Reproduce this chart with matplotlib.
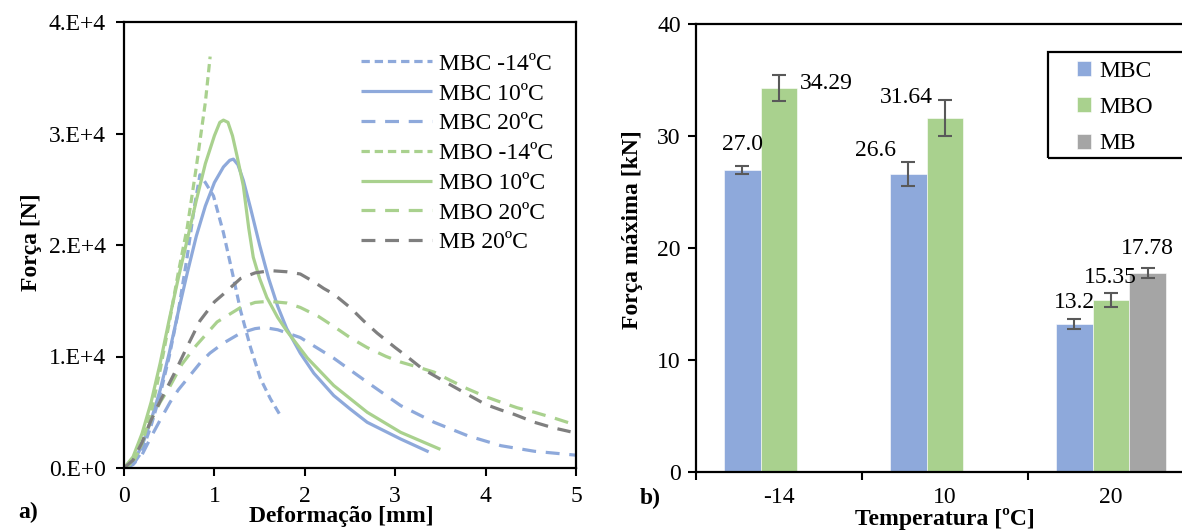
import numpy as np
import matplotlib
matplotlib.use("Agg")
import matplotlib.pyplot as plt
from matplotlib.patches import Rectangle
from matplotlib.ticker import FuncFormatter

plt.rcParams['font.family'] = ['Liberation Serif', 'DejaVu Serif']
plt.rcParams['lines.scale_dashes'] = False

# ---------------- data: left panel (deformation [mm] vs force [N]) ----------------
mbc_m14_x = [0, 0.1, 0.2, 0.3, 0.4, 0.5, 0.6, 0.7, 0.78, 0.84, 0.9, 0.99, 1.1, 1.21, 1.29, 1.4, 1.51, 1.62, 1.73]
mbc_m14_y = [0, 300, 1500, 3800, 6600, 10000, 14000, 19000, 23500, 26300, 25600, 24400, 21100, 17100, 14100, 10800, 8000, 6200, 4700]

mbc_10_x = [0, 0.1, 0.2, 0.3, 0.4, 0.5, 0.6, 0.7, 0.8, 0.9, 1.0, 1.1, 1.17, 1.21, 1.26, 1.32, 1.4, 1.5, 1.6, 1.7, 1.8, 1.95, 2.1, 2.32, 2.5, 2.69, 3.06, 3.37]
mbc_10_y = [0, 500, 2000, 4300, 7000, 10300, 14000, 17500, 20800, 23500, 25600, 27000, 27600, 27700, 27200, 25800, 23300, 20000, 17000, 14500, 12500, 10300, 8500, 6500, 5300, 4100, 2600, 1450]

mbc_20_x = [0, 0.1, 0.2, 0.3, 0.4, 0.51, 0.6, 0.73, 0.85, 0.95, 1.1, 1.29, 1.45, 1.55, 1.7, 1.95, 2.15, 2.32, 2.5, 2.69, 3.06, 3.43, 3.8, 4.17, 4.54, 5.0]
mbc_20_y = [0, 300, 1200, 2800, 4300, 5900, 7000, 8300, 9500, 10300, 11200, 12100, 12500, 12600, 12400, 11700, 10700, 9850, 8800, 7700, 5600, 4100, 2900, 2000, 1500, 1150]

mbo_m14_x = [0, 0.1, 0.2, 0.3, 0.4, 0.5, 0.6, 0.7, 0.8, 0.9, 0.953]
mbo_m14_y = [0, 500, 2200, 5000, 8800, 13000, 17500, 21600, 27000, 32800, 36900]

mbo_10_x = [0, 0.1, 0.2, 0.3, 0.4, 0.5, 0.6, 0.7, 0.8, 0.9, 1.0, 1.06, 1.1, 1.15, 1.2, 1.25, 1.32, 1.38, 1.43, 1.5, 1.58, 1.7, 1.8, 2.03, 2.32, 2.69, 3.06, 3.5]
mbo_10_y = [0, 1000, 3100, 5900, 9400, 13300, 17000, 20500, 24000, 27300, 29800, 31000, 31200, 31000, 29800, 28000, 25300, 21500, 18900, 17000, 15300, 13500, 12300, 9850, 7400, 5000, 3200, 1670]

mbo_20_x = [0, 0.1, 0.2, 0.3, 0.4, 0.5, 0.64, 0.8, 1.03, 1.29, 1.45, 1.6, 1.8, 1.95, 2.15, 2.32, 2.5, 2.69, 2.9, 3.06, 3.25, 3.43, 3.6, 3.8, 4.0, 4.17, 4.35, 4.54, 4.75, 5.0]
mbo_20_y = [0, 700, 2300, 4300, 5900, 7200, 9300, 11000, 13100, 14400, 14850, 14950, 14800, 14400, 13600, 12700, 11700, 10800, 10000, 9500, 9050, 8600, 7900, 7100, 6400, 5900, 5400, 5000, 4500, 3850]

mb_20_x = [0, 0.1, 0.2, 0.3, 0.4, 0.47, 0.57, 0.7, 0.84, 1.0, 1.1, 1.29, 1.45, 1.62, 1.8, 1.95, 2.1, 2.21, 2.32, 2.5, 2.65, 2.8, 3.0, 3.13, 3.3, 3.58, 3.8, 4.0, 4.17, 4.32, 4.54, 4.75, 4.94]
mb_20_y = [0, 700, 2300, 4300, 6000, 7100, 8700, 10900, 13200, 14900, 15600, 17000, 17500, 17700, 17600, 17400, 16700, 16100, 15600, 14400, 13200, 12100, 10800, 10000, 8900, 7600, 6600, 5700, 5200, 4800, 4100, 3600, 3250]

curve_labels = ['MBC -14ºC', 'MBC 10ºC', 'MBC 20ºC', 'MBO -14ºC', 'MBO 10ºC', 'MBO 20ºC', 'MB 20ºC']

# ---------------- data: right panel (max force) ----------------
temperatures = ['-14', '10', '20']
mbc_force = [27.0, 26.6, 13.2]
mbo_force = [34.29, 31.64, 15.35]
mb_force = [np.nan, np.nan, 17.78]
mbc_err = [0.35, 1.1, 0.45]
mbo_err = [1.18, 1.6, 0.6]
mb_err = [np.nan, np.nan, 0.45]
mbc_labels = ['27.0', '26.6', '13.2']
mbo_labels = ['34.29', '31.64', '15.35']
mb_labels = [None, None, '17.78']

# ---------------- style ----------------
BLUE = '#8EA9DB'
GREEN = '#A9D18E'
GRAY_L = '#7F7F7F'
GRAY_B = '#A5A5A5'
ERR = '#595959'
FS = 17
LW = 2.3
SHORT = (0, (6, 3.5))
LONG = (0, (10, 7))

fig = plt.figure(figsize=(11.82, 5.30), dpi=100)

# ---------------- left panel ----------------
ax1 = fig.add_axes([124/1182, 1-468/530, 452/1182, 446/530])
series = [
    (mbc_m14_x, mbc_m14_y, BLUE, SHORT),
    (mbc_10_x, mbc_10_y, BLUE, '-'),
    (mbc_20_x, mbc_20_y, BLUE, LONG),
    (mbo_m14_x, mbo_m14_y, GREEN, SHORT),
    (mbo_10_x, mbo_10_y, GREEN, '-'),
    (mbo_20_x, mbo_20_y, GREEN, LONG),
    (mb_20_x, mb_20_y, GRAY_L, LONG),
]
for (x, y, c, ls), lab in zip(series, curve_labels):
    ax1.plot(x, y, color=c, linestyle=ls, lw=LW, label=lab, solid_capstyle='butt', dash_capstyle='butt')

ax1.set_xlim(0, 5)
ax1.set_ylim(0, 40000)
ax1.set_xticks(range(0, 6))
ax1.set_yticks([0, 10000, 20000, 30000, 40000])
ax1.yaxis.set_major_formatter(FuncFormatter(lambda v, p: f"{int(round(v/10000)) if v else 0}.E+{4 if v else 0}"))
ax1.tick_params(axis='both', direction='out', length=6, width=1.5, labelsize=FS, colors='black')
ax1.tick_params(axis='x', pad=7)
ax1.tick_params(axis='y', pad=7)
for s in ax1.spines.values():
    s.set_linewidth(1.6)
ax1.set_xlabel('Deformação [mm]', fontsize=FS, fontweight='bold')
ax1.xaxis.label.set_va('center')
ax1.xaxis.set_label_coords(0.48, -0.108)
ax1.set_ylabel('Força [N]', fontsize=FS, fontweight='bold')
ax1.yaxis.label.set_va('center')
ax1.yaxis.set_label_coords(-0.205, 0.507)
leg1 = ax1.legend(loc='upper left', bbox_to_anchor=(0.525, 0.93), frameon=False, fontsize=FS,
                  handlelength=3.0, handletextpad=0.3, labelspacing=0.35, borderpad=0, borderaxespad=0)
fig.text(18/1182, 1-512/530, 'a)', fontsize=FS, fontweight='bold', va='center', ha='left')

# ---------------- right panel ----------------
ax2 = fig.add_axes([696/1182, 1-472/530, 498/1182, 448/530])
xc = np.arange(len(temperatures))
w = 0.222
b1 = ax2.bar(xc - w, mbc_force, w, color=BLUE, label='MBC', edgecolor='white', linewidth=0.4)
b2 = ax2.bar(xc, mbo_force, w, color=GREEN, label='MBO', edgecolor='white', linewidth=0.4)
b3 = ax2.bar(xc + w, mb_force, w, color=GRAY_B, label='MB', edgecolor='white', linewidth=0.4)
ekw = dict(fmt='none', ecolor=ERR, elinewidth=1.5, capsize=5, capthick=1.5)
ax2.errorbar(xc - w, mbc_force, yerr=mbc_err, **ekw)
ax2.errorbar(xc, mbo_force, yerr=mbo_err, **ekw)
ax2.errorbar(xc + w, mb_force, yerr=mb_err, **ekw)

# data labels (offsets in pixels from bar top, as placed in the original)
mbc_off = [(0, 25), (-33, 24), (0, 22)]
mbo_off = [(47, 4), (-39, 20), (-1, 23)]
mb_off = [None, None, (0, 24)]
for vals, labs, offs, dx in [(mbc_force, mbc_labels, mbc_off, -w), (mbo_force, mbo_labels, mbo_off, 0), (mb_force, mb_labels, mb_off, w)]:
    for i, (v, l, o) in enumerate(zip(vals, labs, offs)):
        if l is None:
            continue
        ax2.annotate(l, (xc[i] + dx, v), xytext=o, textcoords='offset pixels',
                     ha='center', va='center', fontsize=FS)

ax2.set_xlim(-0.5, 2.5)
ax2.set_ylim(0, 40)
ax2.set_yticks([0, 10, 20, 30, 40])
ax2.set_xticks([-0.5, 0.5, 1.5, 2.5])
ax2.set_xticklabels([])
ax2.set_xticks(xc, minor=True)
ax2.set_xticklabels(temperatures, minor=True)
ax2.tick_params(axis='x', which='minor', length=0, labelsize=FS, pad=11)
ax2.tick_params(axis='x', which='major', direction='out', length=6, width=1.5)
ax2.tick_params(axis='y', direction='out', length=6, width=1.5, labelsize=FS, pad=5)
for s in ax2.spines.values():
    s.set_linewidth(1.6)
ax2.set_xlabel('Temperatura [ºC]', fontsize=FS, fontweight='bold')
ax2.xaxis.label.set_va('center')
ax2.xaxis.set_label_coords(0.5, -0.104)
ax2.set_ylabel('Força máxima [kN]', fontsize=FS, fontweight='bold')
ax2.yaxis.label.set_va('center')
ax2.yaxis.set_label_coords(-0.1285, 0.54)

leg2 = ax2.legend(handles=[b1, b2, b3], loc='upper left', bbox_to_anchor=(0.765, 0.918), frameon=False,
                  fontsize=FS, handlelength=0.6, handleheight=0.6, handletextpad=0.35,
                  labelspacing=0.65, borderpad=0, borderaxespad=0)
ax2.add_patch(Rectangle((0.707, 0.701), 0.4, 0.2365, transform=ax2.transAxes, fill=False,
                        edgecolor='black', linewidth=1.6, clip_on=False, zorder=5))
fig.text(640/1182, 1-498/530, 'b)', fontsize=FS, fontweight='bold', va='center', ha='left')

fig.savefig('out.png', dpi=100)
